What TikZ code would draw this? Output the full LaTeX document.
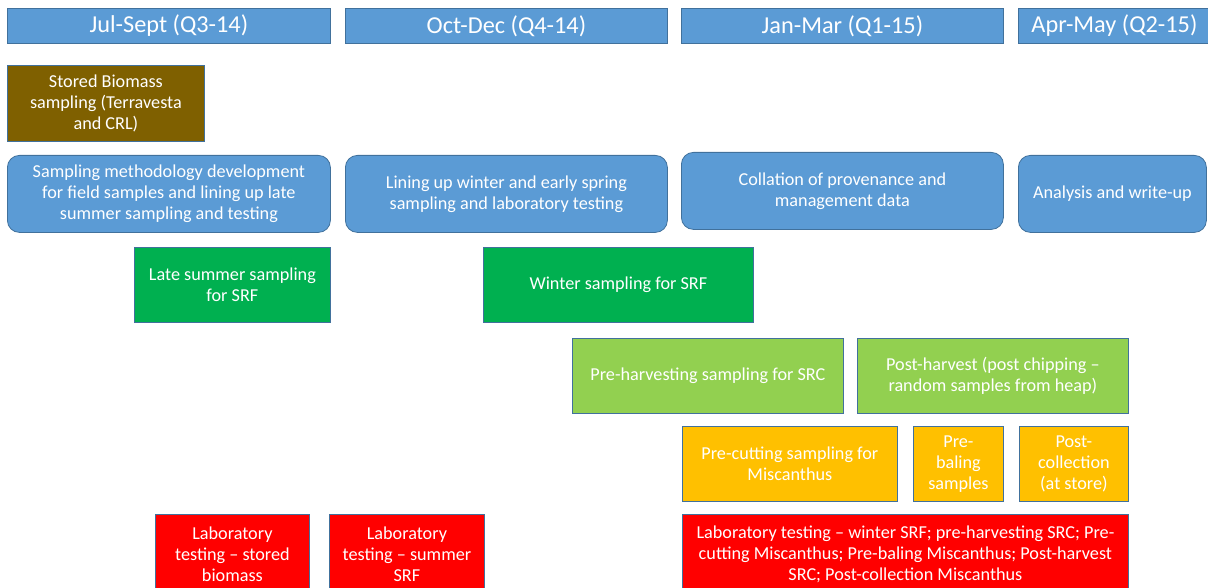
\documentclass[tikz,border=0pt]{standalone}
\usepackage{fontspec}
\setmainfont{Carlito}
\usepackage{tikz}
\usetikzlibrary{positioning}

\definecolor{pblue}{HTML}{5B9BD5}
\definecolor{edge}{HTML}{41719C}
\definecolor{soil}{HTML}{7F6000}
\definecolor{dgreen}{HTML}{00B050}
\definecolor{lgreen}{HTML}{92D050}
\definecolor{gold}{HTML}{FFC000}
\definecolor{labred}{HTML}{FF0000}

\begin{document}
\begin{tikzpicture}[x=1bp, y=-1bp]
	\tikzstyle{box}
	  =[draw=edge, line width=0.8bp, anchor=north west, inner sep=0pt,
	  text=white, align=center, font=\fontsize{18.2bp}{21bp}\selectfont]
	\tikzstyle{hdr}=[box, fill=pblue, minimum height=35bp,
	  font=\fontsize{24.3bp}{28bp}\selectfont]
	\tikzstyle{plan}=[box, fill=pblue, rounded corners=12bp, minimum height=77bp]
	\tikzstyle{stored}=[box, fill=soil, minimum height=76bp]
	\tikzstyle{srf}=[box, fill=dgreen, minimum height=75bp]
	\tikzstyle{src}=[box, fill=lgreen, minimum height=75bp]
	\tikzstyle{misc}=[box, fill=gold, minimum height=75bp]
	\tikzstyle{lab}=[box, fill=labred, minimum height=80bp]

	\clip (0,0) rectangle (1208,588);

	% quarters
	\node[hdr, minimum width=323bp] (q3)
	  at (7,8) {Jul-Sept (Q3-14)};
	\node[hdr, minimum width=322bp] (q4)
	  at (345,8) {Oct-Dec (Q4-14)};
	\node[hdr, minimum width=322bp] (q1)
	  at (681,8) {Jan-Mar (Q1-15)};
	\node[hdr, minimum width=192bp] (q2)
	  at (1018,8) {Apr-May (Q2-15)};

	\node[stored, minimum width=197bp] (biomass)
	  at (7,65) {Stored Biomass\\sampling (Terravesta\\and CRL)};

	% planning
	\node[plan, minimum width=323bp] (method)
	  at (7,155) {Sampling methodology development\\for field samples and lining up late\\summer sampling and testing};
	\node[plan, minimum width=322bp] (lineup)
	  at (345,155) {Lining up winter and early spring\\sampling and laboratory testing};
	\node[plan, minimum width=322bp] (collate)
	  at (681,152) {Collation of provenance and\\management data};
	\node[plan, minimum width=188bp] (write)
	  at (1018,155) {Analysis and write-up};

	% sampling
	\node[srf, minimum width=196bp] (lateSRF)
	  at (134,247) {Late summer sampling\\for SRF};
	\node[srf, minimum width=270bp] (winterSRF)
	  at (483,247) {Winter sampling for SRF};
	\node[src, minimum width=271bp] (preSRC)
	  at (572,338) {Pre-harvesting sampling for SRC};
	\node[src, minimum width=271bp] (postSRC)
	  at (857,338) {Post-harvest (post chipping --\\random samples from heap)};
	\node[misc, minimum width=215bp] (preCut)
	  at (682,426) {Pre-cutting sampling for\\Miscanthus};
	\node[misc, minimum width=90bp] (preBale)
	  at (913,426) {Pre-\\baling\\samples};
	\node[misc, minimum width=109bp] (postColl)
	  at (1019,426) {Post-\\collection\\(at store)};

	% testing
	\node[lab, minimum width=154bp] (labStored)
	  at (155,514) {Laboratory\\testing -- stored\\biomass};
	\node[lab, minimum width=155bp] (labSummer)
	  at (329,514) {Laboratory\\testing -- summer\\SRF};
	\node[lab, minimum width=446bp] (labWinter)
	  at (682,514) {Laboratory testing -- winter SRF; pre-harvesting SRC; Pre-\\cutting Miscanthus; Pre-baling Miscanthus; Post-harvest\\SRC; Post-collection Miscanthus};
\end{tikzpicture}
\end{document}
